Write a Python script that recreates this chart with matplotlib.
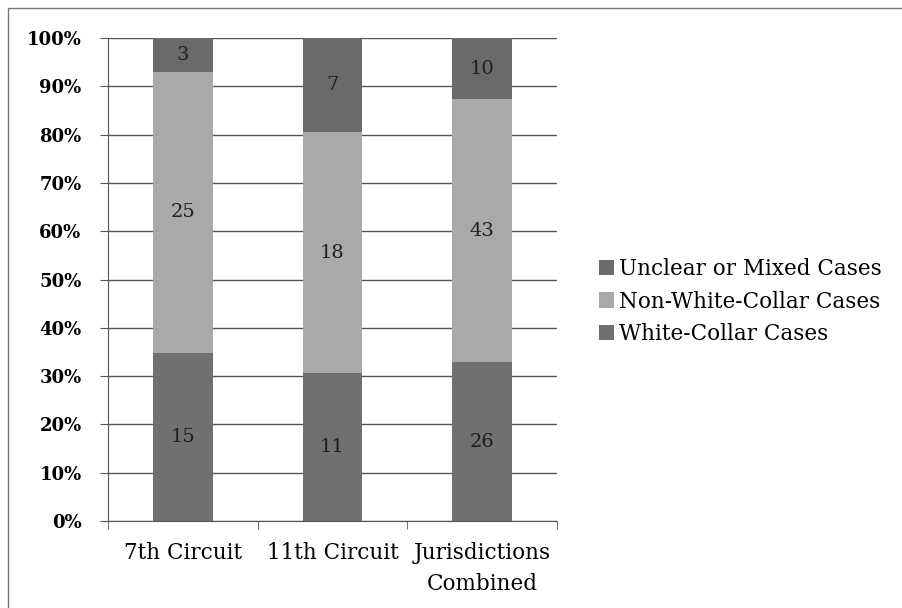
import matplotlib
matplotlib.use("Agg")
import matplotlib.pyplot as plt
import numpy as np
from matplotlib.patches import Rectangle

categories = ["7th Circuit", "11th Circuit", "Jurisdictions\nCombined"]
white_collar = [15, 11, 26]
non_white_collar = [25, 18, 43]
unclear = [3, 7, 10]

series = [
    ("White-Collar Cases", white_collar, "#707070"),
    ("Non-White-Collar Cases", non_white_collar, "#a9a9a9"),
    ("Unclear or Mixed Cases", unclear, "#6a6a6a"),
]

plt.rcParams["font.family"] = ["DejaVu Serif"]

fig = plt.figure(figsize=(9.02, 6.08), dpi=100)
ax = fig.add_axes([0.1197, 0.143, 0.4978, 0.7945])

totals = np.array(white_collar) + np.array(non_white_collar) + np.array(unclear)
x = np.arange(len(categories))
bottom = np.zeros(len(categories))
handles = []
for name, vals, col in series:
    pct = np.array(vals) / totals * 100
    b = ax.bar(x, pct, 0.4, bottom=bottom, color=col, label=name, zorder=3)
    handles.append(b)
    for xi, p, bt, v in zip(x, pct, bottom, vals):
        ax.text(xi, bt + p / 2, str(v), ha="center", va="center",
                fontsize=14, color="#1e1e1e", zorder=4)
    bottom = bottom + pct

ax.set_xlim(-0.5, 2.5)
ax.set_ylim(0, 100)
ax.set_yticks(np.arange(0, 101, 10))
ax.set_yticklabels([f"{v}%" for v in range(0, 101, 10)], fontsize=13, fontweight="bold")
ax.set_xticks(x)
ax.set_xticklabels(categories, fontsize=15.5, linespacing=1.55)
ax.tick_params(axis="x", length=0, pad=15)
ax.set_xticks([-0.5, 0.5, 1.5, 2.5], minor=True)
ax.tick_params(axis="x", which="minor", length=6, direction="out", color="#555555")
ax.tick_params(axis="y", length=6, direction="out", color="#555555", pad=13)
ax.grid(axis="y", color="#555555", linewidth=1, zorder=0)
for s in ["top", "right"]:
    ax.spines[s].set_visible(False)
ax.spines["left"].set_color("#555555")
ax.spines["bottom"].set_color("#555555")

fig.legend(handles[::-1], [s[0] for s in series][::-1], loc="center left",
           bbox_to_anchor=(0.643, 0.504), frameon=False, fontsize=15.5,
           handlelength=0.7, handleheight=0.7, handletextpad=0.2, labelspacing=0.5)

fig.patches.append(Rectangle((0.009, -0.05), 1.2, 1.037, transform=fig.transFigure,
                             fill=False, edgecolor="#777777", linewidth=1))

fig.savefig("out.png", dpi=100)
